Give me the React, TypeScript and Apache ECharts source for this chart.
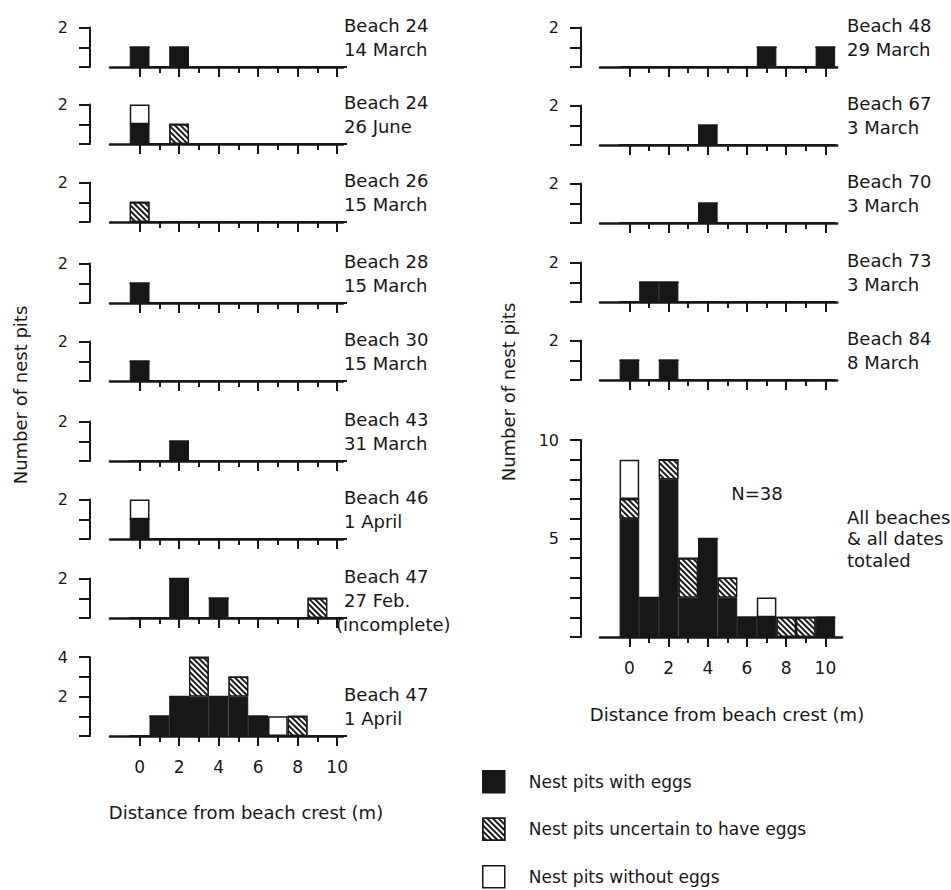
import { useEffect, useRef } from 'react';
import * as echarts from 'echarts';

// ---------- DATA ----------
const distances = [0, 1, 2, 3, 4, 5, 6, 7, 8, 9, 10];
const evenTicks = [0, 2, 4, 6, 8, 10];
const oddTicks = [1, 3, 5, 7, 9];
const seriesNames = ['Nest pits with eggs', 'Nest pits uncertain to have eggs', 'Nest pits without eggs'];
const none = [0, 0, 0, 0, 0, 0, 0, 0, 0, 0, 0];

// left column
const b24Mar14Eggs = [1, 0, 1, 0, 0, 0, 0, 0, 0, 0, 0];
const b24Jun26Eggs = [1, 0, 0, 0, 0, 0, 0, 0, 0, 0, 0];
const b24Jun26Uncertain = [0, 0, 1, 0, 0, 0, 0, 0, 0, 0, 0];
const b24Jun26Without = [1, 0, 0, 0, 0, 0, 0, 0, 0, 0, 0];
const b26Mar15Uncertain = [1, 0, 0, 0, 0, 0, 0, 0, 0, 0, 0];
const b28Mar15Eggs = [1, 0, 0, 0, 0, 0, 0, 0, 0, 0, 0];
const b30Mar15Eggs = [1, 0, 0, 0, 0, 0, 0, 0, 0, 0, 0];
const b43Mar31Eggs = [0, 0, 1, 0, 0, 0, 0, 0, 0, 0, 0];
const b46Apr1Eggs = [1, 0, 0, 0, 0, 0, 0, 0, 0, 0, 0];
const b46Apr1Without = [1, 0, 0, 0, 0, 0, 0, 0, 0, 0, 0];
const b47Feb27Eggs = [0, 0, 2, 0, 1, 0, 0, 0, 0, 0, 0];
const b47Feb27Uncertain = [0, 0, 0, 0, 0, 0, 0, 0, 0, 1, 0];
const b47Apr1Eggs = [0, 1, 2, 2, 2, 2, 1, 0, 0, 0, 0];
const b47Apr1Uncertain = [0, 0, 0, 2, 0, 1, 0, 0, 1, 0, 0];
const b47Apr1Without = [0, 0, 0, 0, 0, 0, 0, 1, 0, 0, 0];
// right column
const b48Mar29Eggs = [0, 0, 0, 0, 0, 0, 0, 1, 0, 0, 1];
const b67Mar3Eggs = [0, 0, 0, 0, 1, 0, 0, 0, 0, 0, 0];
const b70Mar3Eggs = [0, 0, 0, 0, 1, 0, 0, 0, 0, 0, 0];
const b73Mar3Eggs = [0, 1, 1, 0, 0, 0, 0, 0, 0, 0, 0];
const b84Mar8Eggs = [1, 0, 1, 0, 0, 0, 0, 0, 0, 0, 0];
// all beaches & all dates
const totalEggs = [6, 2, 8, 2, 5, 2, 1, 1, 0, 0, 1];
const totalUncertain = [1, 0, 1, 2, 0, 1, 0, 0, 1, 1, 0];
const totalWithout = [2, 0, 0, 0, 0, 0, 0, 1, 0, 0, 0];

const smallYLabels = [2];
const tallYLabels = [2, 4];
const totalYLabels = [5, 10];

const leftLabels = [
  ['Beach 24', '14 March'],
  ['Beach 24', '26 June'],
  ['Beach 26', '15 March'],
  ['Beach 28', '15 March'],
  ['Beach 30', '15 March'],
  ['Beach 43', '31 March'],
  ['Beach 46', '1 April'],
  ['Beach 47', '27 Feb.', '(incomplete)'],
  ['Beach 47', '1 April'],
];
const rightLabels = [
  ['Beach 48', '29 March'],
  ['Beach 67', '3 March'],
  ['Beach 70', '3 March'],
  ['Beach 73', '3 March'],
  ['Beach 84', '8 March'],
];
const totalLabel = ['All beaches', '& all dates', 'totaled'];
const totalNote = 'N=38';
const yTitle = 'Number of nest pits';
const xTitle = 'Distance from beach crest (m)';

// ---------- LAYOUT ----------
const INK = '#171717';
const FONT = '"DejaVu Sans", "Liberation Sans", sans-serif';
const UNIT_Y = 19.7;
const X_MIN = -1.5;

type Panel = {
  eggs: number[]; unc: number[]; without: number[];
  yMax: number; yLabels: number[]; left: number; base: number;
  xMax: number; unit: number; xLabels: boolean; yOffset: number;
};

const leftData = [
  [b24Mar14Eggs, none, none],
  [b24Jun26Eggs, b24Jun26Uncertain, b24Jun26Without],
  [none, b26Mar15Uncertain, none],
  [b28Mar15Eggs, none, none],
  [b30Mar15Eggs, none, none],
  [b43Mar31Eggs, none, none],
  [b46Apr1Eggs, none, b46Apr1Without],
  [b47Feb27Eggs, b47Feb27Uncertain, none],
  [b47Apr1Eggs, b47Apr1Uncertain, b47Apr1Without],
];
const rightData = [
  [b48Mar29Eggs, none, none],
  [b67Mar3Eggs, none, none],
  [b70Mar3Eggs, none, none],
  [b73Mar3Eggs, none, none],
  [b84Mar8Eggs, none, none],
  [totalEggs, totalUncertain, totalWithout],
];
const leftBases = [67, 144, 222, 303, 381, 461, 539, 618, 736];
const rightBases = [67, 145, 223, 302, 380, 637];

const panels: Panel[] = [];
leftData.forEach((d, i) => {
  const last = i === leftData.length - 1;
  panels.push({
    eggs: d[0], unc: d[1], without: d[2],
    yMax: last ? 4 : 2, yLabels: last ? tallYLabels : smallYLabels,
    left: 110, base: leftBases[i], xMax: 10.3, unit: 19.75, xLabels: last, yOffset: 20,
  });
});
rightData.forEach((d, i) => {
  const last = i === rightData.length - 1;
  panels.push({
    eggs: d[0], unc: d[1], without: d[2],
    yMax: last ? 10 : 2, yLabels: last ? totalYLabels : smallYLabels,
    left: 600, base: rightBases[i], xMax: last ? 10.85 : 10.6, unit: 19.6, xLabels: last, yOffset: 19,
  });
});

const hatchDecal = {
  symbol: 'rect',
  symbolSize: 1,
  color: '#1c1c1c',
  dashArrayX: [1, 0],
  dashArrayY: [2, 1.6],
  rotation: Math.PI / 4,
};

function buildOption() {
  const grid: any[] = [];
  const xAxis: any[] = [];
  const yAxis: any[] = [];
  const series: any[] = [];
  const graphic: any[] = [];

  panels.forEach((p, i) => {
    const h = p.yMax * UNIT_Y;
    grid.push({
      left: p.left, top: p.base - h, width: (p.xMax - X_MIN) * p.unit, height: h,
      containLabel: false, outerBoundsMode: 'none',
    });
    const common = {
      gridIndex: i, type: 'value', min: X_MIN, max: p.xMax, position: 'bottom',
      splitLine: { show: false },
    };
    xAxis.push({
      ...common,
      axisLine: { show: true, onZero: false, lineStyle: { color: INK, width: 2.5 } },
      axisTick: { show: true, customValues: evenTicks, length: 10, lineStyle: { color: INK, width: 2 } },
      axisLabel: {
        show: p.xLabels, customValues: evenTicks, margin: 22,
        fontSize: 17, fontFamily: FONT, color: INK,
      },
    });
    xAxis.push({
      ...common,
      axisLine: { show: false, onZero: false },
      axisTick: { show: true, customValues: oddTicks, length: 6, lineStyle: { color: INK, width: 2 } },
      axisLabel: { show: false },
    });
    yAxis.push({
      gridIndex: i, type: 'value', min: 0, max: p.yMax, interval: 1, position: 'left', offset: p.yOffset,
      splitLine: { show: false },
      axisLine: { show: true, onZero: false, lineStyle: { color: INK, width: 2 } },
      axisTick: { show: true, length: 11, lineStyle: { color: INK, width: 2 } },
      axisLabel: {
        margin: 22, fontSize: 16, fontFamily: FONT, color: INK,
        formatter: (v: number) => (p.yLabels.indexOf(v) >= 0 ? String(v) : ''),
      },
    });
    // value first, distance second, so the count dimension is the stacked one
    const mk = (vals: number[]) => distances.map((d, k) => [vals[k], d]);
    const base = {
      type: 'bar', xAxisIndex: 2 * i, yAxisIndex: i, stack: 'p' + i,
      encode: { x: 1, y: 0 },
      barWidth: p.unit, barGap: '0%',
    };
    series.push({
      ...base, name: seriesNames[0], data: mk(p.eggs),
      itemStyle: { color: INK, borderColor: INK, borderWidth: 1 },
    });
    series.push({
      ...base, name: seriesNames[1], data: mk(p.unc),
      itemStyle: { color: '#ffffff', borderColor: INK, borderWidth: 1.2, decal: hatchDecal },
    });
    series.push({
      ...base, name: seriesNames[2], data: mk(p.without),
      itemStyle: { color: '#ffffff', borderColor: INK, borderWidth: 1.5 },
    });
  });

  const txt = (text: string, x: number, y: number, extra: any = {}) => ({
    type: 'text', x, y, silent: true, ...extra,
    style: {
      text, fill: INK, fontSize: 18, fontFamily: FONT,
      align: extra.align || 'left', textAlign: extra.align || 'left',
      verticalAlign: 'middle', textVerticalAlign: 'middle',
    },
  });

  leftLabels.forEach((lines, i) => {
    lines.forEach((t, k) => {
      const x = t.startsWith('(') ? 336 : 344;
      graphic.push(txt(t, x, leftBases[i] - 42 + k * 24));
    });
  });
  rightLabels.forEach((lines, i) => {
    lines.forEach((t, k) => graphic.push(txt(t, 847, rightBases[i] - 42 + k * 24)));
  });
  totalLabel.forEach((t, k) => graphic.push(txt(t, 847, 517 + k * 21.5)));
  graphic.push(txt(totalNote, 757, 493, { align: 'center' }));
  graphic.push(txt(xTitle, 246, 812, { align: 'center' }));
  graphic.push(txt(xTitle, 727, 714, { align: 'center' }));
  graphic.push(txt(yTitle, 20, 395, { align: 'center', rotation: Math.PI / 2 }));
  graphic.push(txt(yTitle, 508, 392, { align: 'center', rotation: Math.PI / 2 }));

  return {
    animation: false,
    backgroundColor: '#ffffff',
    grid, xAxis, yAxis, series, graphic,
    legend: {
      data: seriesNames,
      orient: 'vertical',
      left: 477, top: 765, height: 130,
      itemWidth: 22, itemHeight: 22, itemGap: 24,
      icon: 'rect',
      selectedMode: false,
      itemStyle: { borderColor: INK, borderWidth: 1.5 },
      textStyle: { fontSize: 17, lineHeight: 22, fontFamily: FONT, color: INK, padding: [0, 0, 0, 19] },
    },
  };
}

export default function App() {
  const ref = useRef<HTMLDivElement>(null);
  useEffect(() => {
    document.body.style.margin = '0';
    if (!ref.current) return;
    const chart = echarts.init(ref.current, null, { renderer: 'svg' });
    chart.setOption(buildOption() as any);
    return () => chart.dispose();
  }, []);
  return <div ref={ref} style={{ position: 'absolute', left: 0, top: 0, width: 951, height: 890 }} />;
}
